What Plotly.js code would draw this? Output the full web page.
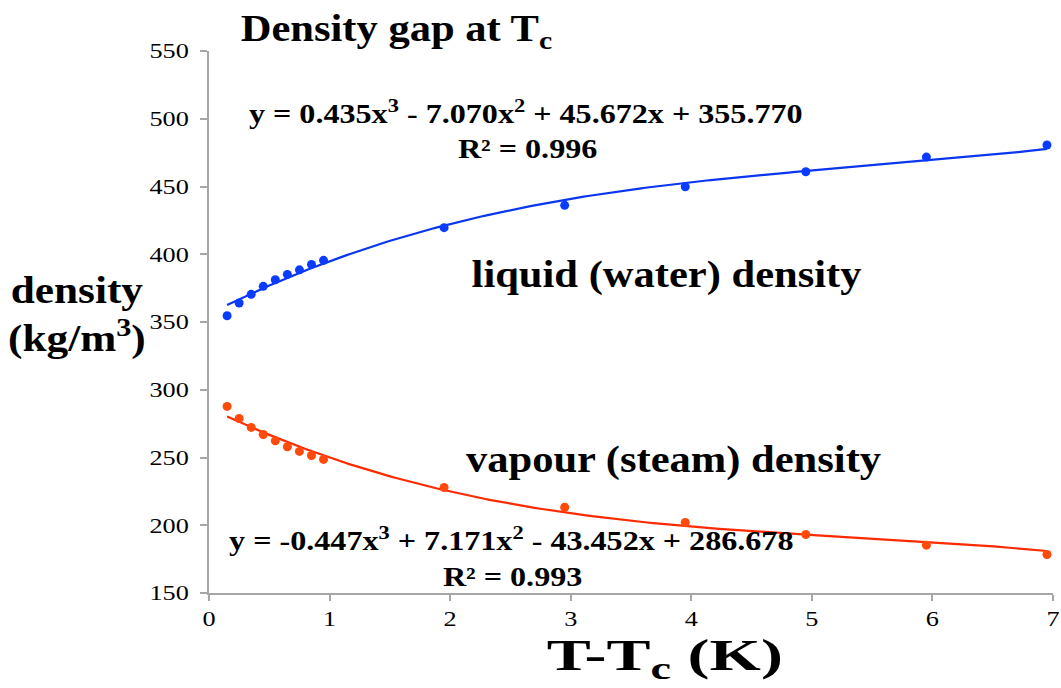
<!DOCTYPE html>
<html>
<head>
<meta charset="utf-8">
<script src="https://cdn.plot.ly/plotly-3.0.1.min.js"></script>
<style>html,body{margin:0;padding:0;background:#fff;}#chart{width:1061px;height:688px;}</style>
</head>
<body>
<div id="chart"></div>
<script>
// ---- data ----
const dT = [0.15, 0.25, 0.35, 0.45, 0.55, 0.65, 0.75, 0.85, 0.95, 1.95, 2.95, 3.95, 4.95, 5.95, 6.95];
const liquidDensity = [354.6, 364.0, 370.4, 376.3, 381.2, 385.1, 388.5, 392.5, 395.5, 419.6, 436.1, 449.8, 460.9, 471.7, 480.6];
const vapourDensity = [287.7, 278.8, 272.2, 267.0, 262.3, 257.9, 254.5, 251.5, 248.6, 227.9, 213.3, 202.0, 193.2, 185.3, 178.4];
// cubic trendline coefficients [a3, a2, a1, a0] as printed on the chart
const liquidFit = [0.435, -7.070, 45.672, 355.770];
const vapourFit = [-0.447, 7.171, -43.452, 286.678];
const liquidR2 = "0.996";
const vapourR2 = "0.993";
const xTicks = [0, 1, 2, 3, 4, 5, 6, 7];
const yTicks = [150, 200, 250, 300, 350, 400, 450, 500, 550];

function evalFit(c, x) { return ((c[0] * x + c[1]) * x + c[2]) * x + c[3]; }
function fitCurve(c) {
  const xs = [], ys = [];
  const x0 = dT[0], x1 = dT[dT.length - 1], n = 200;
  for (let i = 0; i <= n; i++) { const x = x0 + (x1 - x0) * i / n; xs.push(x); ys.push(evalFit(c, x)); }
  return { xs, ys };
}
function num(v) { return Math.abs(v).toFixed(3); }
function eqText(c) {
  let s = "y = " + (c[0] < 0 ? "-" : "") + num(c[0]) + "x<sup>3</sup>";
  s += (c[1] < 0 ? " - " : " + ") + num(c[1]) + "x<sup>2</sup>";
  s += (c[2] < 0 ? " - " : " + ") + num(c[2]) + "x";
  s += (c[3] < 0 ? " - " : " + ") + num(c[3]);
  return s;
}

const BLUE = "#0a3cff";
const RED = "#ff4a0a";
const liqC = fitCurve(liquidFit), vapC = fitCurve(vapourFit);

const traces = [
  { x: liqC.xs, y: liqC.ys, mode: "lines", line: { color: "#0a36f0", width: 2.2 }, hoverinfo: "skip" },
  { x: vapC.xs, y: vapC.ys, mode: "lines", line: { color: "#ff2a00", width: 2.2 }, hoverinfo: "skip" },
  { x: dT, y: liquidDensity, mode: "markers", marker: { color: BLUE, size: 9 } },
  { x: dT, y: vapourDensity, mode: "markers", marker: { color: RED, size: 9 } }
];

const SERIF = "'Liberation Serif', 'Times New Roman', serif";
const black = "#000";
const layout = {
  width: 1061, height: 688,
  margin: { l: 209, r: 8, t: 51, b: 95 },
  paper_bgcolor: "#fff", plot_bgcolor: "#fff",
  showlegend: false,
  font: { family: SERIF, color: black },
  xaxis: {
    range: [0, 7], tickvals: xTicks, ticktext: xTicks.map(String),
    showgrid: false, zeroline: false, showline: true, linecolor: "#a6a6a6", linewidth: 2,
    ticks: "outside", ticklen: 6, tickcolor: "#a6a6a6", tickwidth: 2,
    tickfont: { family: SERIF, size: 21, color: black }, ticklabelstandoff: 0
  },
  yaxis: {
    range: [150, 550], tickvals: yTicks, ticktext: yTicks.map(String),
    showgrid: false, zeroline: false, showline: true, linecolor: "#a6a6a6", linewidth: 2,
    ticks: "outside", ticklen: 7, tickcolor: "#a6a6a6", tickwidth: 2,
    tickfont: { family: SERIF, size: 21, color: black }, ticklabelstandoff: 7
  },
  annotations: [
    { xref: "paper", yref: "paper", x: 0.2216, y: 1.0, xanchor: "center", yanchor: "bottom", showarrow: false,
      text: "<b>Density gap at T<sub>c</sub></b>", font: { family: SERIF, size: 37, color: black }, yshift: -6, name: "s1.15" },
    { xref: "paper", yref: "paper", x: -0.156, y: 0.513, xanchor: "center", yanchor: "middle", showarrow: false, align: "center",
      text: "<b>density<br>(kg/m<sup>3</sup>)</b>", font: { family: SERIF, size: 37, color: black }, name: "s1.17" },
    { xref: "paper", yref: "paper", x: 0.54, y: -0.12, xanchor: "center", yanchor: "middle", showarrow: false,
      text: "<b>T-T<sub>c</sub>\u00a0(K)</b>", font: { family: SERIF, size: 44, color: black }, name: "s1.5" },
    { xref: "x", yref: "y", x: 2.63, y: 505, xanchor: "center", yanchor: "middle", showarrow: false,
      text: "<b>" + eqText(liquidFit) + "</b>", font: { family: SERIF, size: 27, color: black }, name: "s1.19" },
    { xref: "x", yref: "y", x: 2.64, y: 478, xanchor: "center", yanchor: "middle", showarrow: false,
      text: "<b>R² = " + liquidR2 + "</b>", font: { family: SERIF, size: 27, color: black }, name: "s1.19" },
    { xref: "x", yref: "y", x: 2.505, y: 189.5, xanchor: "center", yanchor: "middle", showarrow: false,
      text: "<b>" + eqText(vapourFit) + "</b>", font: { family: SERIF, size: 27, color: black }, name: "s1.19" },
    { xref: "x", yref: "y", x: 2.52, y: 161.5, xanchor: "center", yanchor: "middle", showarrow: false,
      text: "<b>R² = " + vapourR2 + "</b>", font: { family: SERIF, size: 27, color: black }, name: "s1.19" },
    { xref: "x", yref: "y", x: 3.80, y: 385, xanchor: "center", yanchor: "middle", showarrow: false,
      text: "<b>liquid (water) density</b>", font: { family: SERIF, size: 37, color: black }, name: "s1.15" },
    { xref: "x", yref: "y", x: 3.86, y: 248, xanchor: "center", yanchor: "middle", showarrow: false,
      text: "<b>vapour (steam) density</b>", font: { family: SERIF, size: 37, color: black }, name: "s1.15" }
  ]
};

// horizontal stretch of rendered text (the reference's serif text is wider than normal)
function stretchEl(el, f, anchor) {
  const bb = el.getBBox();
  const cx = anchor === "right" ? bb.x + bb.width : bb.x + bb.width / 2;
  const existing = el.getAttribute("transform") || "";
  el.setAttribute("transform", existing + " translate(" + cx + ",0) scale(" + f + ",1) translate(" + (-cx) + ",0)");
}

Plotly.newPlot("chart", traces, layout, { displayModeBar: false, staticPlot: true }).then(function (gd) {
  const annGroups = gd.querySelectorAll(".annotation");
  annGroups.forEach(function (g, i) {
    const a = layout.annotations[i];
    const f = a && a.name ? parseFloat(a.name.slice(1)) : 1;
    const t = g.querySelector("text.annotation-text");
    if (t && f !== 1) stretchEl(t, f, "center");
  });
  gd.querySelectorAll(".ytick text").forEach(function (t) { stretchEl(t, 1.25, "right"); });
  gd.querySelectorAll(".xtick text").forEach(function (t) { stretchEl(t, 1.25, "center"); });
});
</script>
</body>
</html>
